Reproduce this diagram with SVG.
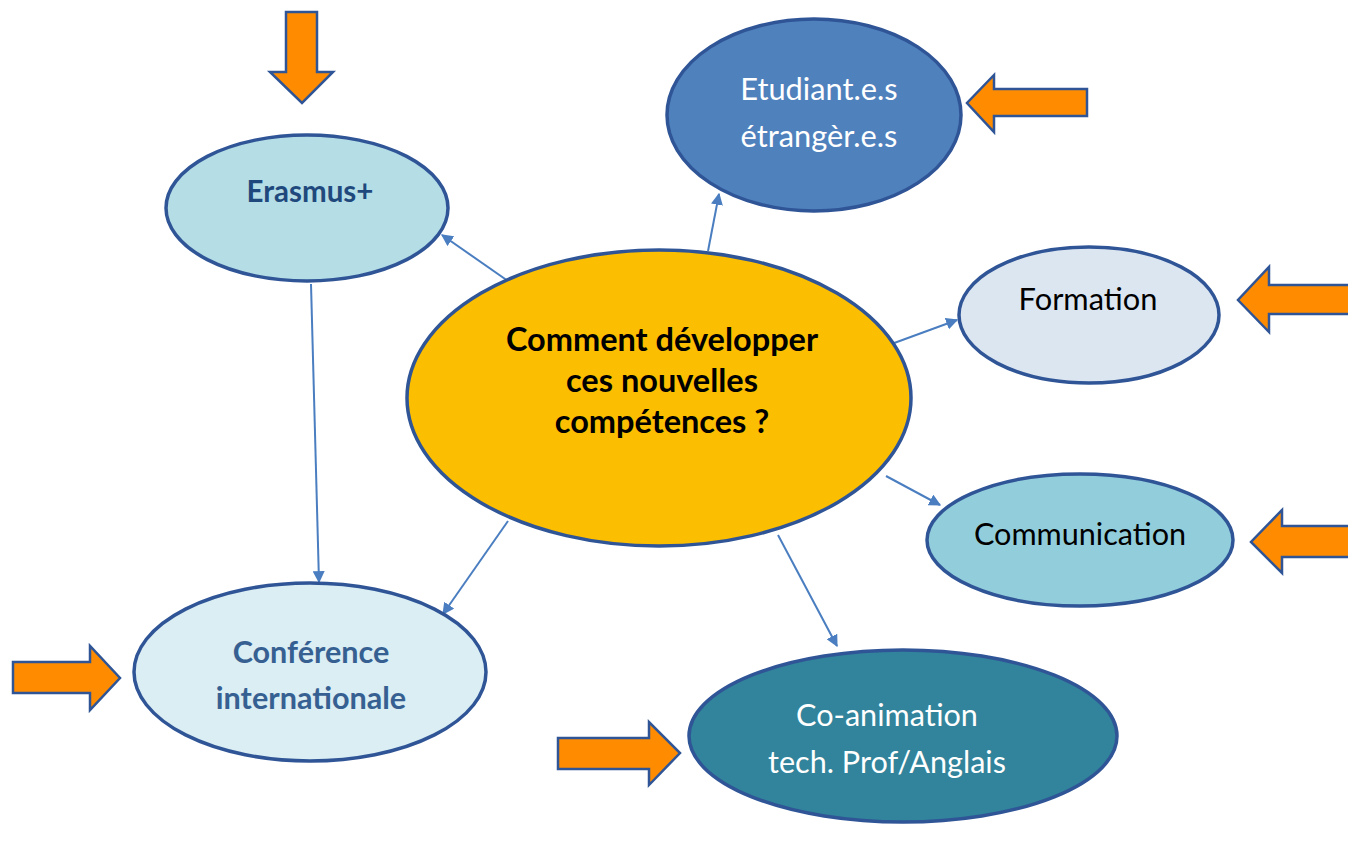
<svg xmlns="http://www.w3.org/2000/svg" width="1348" height="850" viewBox="0 0 1348 850">
<defs>
<style>
.node{stroke:#2F5597;stroke-width:3.5}
.blk{fill:#FF8C00;stroke:#2F5597;stroke-width:2.5;stroke-linejoin:miter}
.con{stroke:#4A7EC0;stroke-width:2;fill:none;marker-end:url(#ah)}
text{font-family:Lato,"Open Sans","Liberation Sans",sans-serif;text-anchor:middle}
</style>
<marker id="ah" viewBox="0 0 10 10" refX="9" refY="5" markerWidth="6" markerHeight="6" orient="auto" markerUnits="strokeWidth">
<path d="M0,0 L10,5 L0,10 z" fill="#4A7EC0"/>
</marker>
</defs>
<rect width="1348" height="850" fill="#FFFFFF"/>
<g id="connectors">
<line class="con" x1="508" y1="281" x2="442" y2="235"/>
<line class="con" x1="708" y1="251" x2="719" y2="194"/>
<line class="con" x1="886" y1="346" x2="957" y2="320"/>
<line class="con" x1="886" y1="476" x2="940" y2="505"/>
<line class="con" x1="508" y1="521" x2="443" y2="614"/>
<line class="con" x1="778" y1="535" x2="837" y2="646"/>
<line class="con" x1="311" y1="284" x2="319" y2="582"/>
</g>
<g id="center">
<ellipse class="node" cx="659" cy="398" rx="252" ry="148" fill="#FBBE00"/>
<text font-weight="bold" font-size="32.5" fill="#000000"><tspan x="662" y="351">Comment développer</tspan><tspan x="662" y="392">ces nouvelles</tspan><tspan x="662" y="433">compétences ?</tspan></text>
</g>
<g id="erasmus">
<ellipse class="node" cx="307" cy="208" rx="141" ry="73" fill="#B4DDE6"/>
<text x="310" y="202" font-weight="bold" font-size="29.5" fill="#1F497D">Erasmus+</text>
</g>
<g id="etudiants">
<ellipse class="node" cx="814" cy="115" rx="147" ry="96" fill="#4F81BD"/>
<text font-size="30.8" fill="#FFFFFF"><tspan x="819" y="100">Etudiant.e.s</tspan><tspan x="819" y="147">étrangèr.e.s</tspan></text>
</g>
<g id="formation">
<ellipse class="node" cx="1089" cy="315" rx="130" ry="68" fill="#DCE6F1"/>
<text x="1088" y="310" font-size="30.8" fill="#000000">Formation</text>
</g>
<g id="communication">
<ellipse class="node" cx="1080" cy="540" rx="153" ry="66" fill="#92CDDC"/>
<text x="1080" y="545" font-size="30.6" fill="#000000">Communication</text>
</g>
<g id="conference">
<ellipse class="node" cx="310" cy="672" rx="176" ry="89" fill="#DAEEF3"/>
<text font-weight="bold" font-size="30.6" fill="#376092"><tspan x="311" y="663">Conférence</tspan><tspan x="311" y="709">internationale</tspan></text>
</g>
<g id="coanimation">
<ellipse class="node" cx="903" cy="736" rx="214" ry="86" fill="#31849B"/>
<text font-size="30.6" fill="#FFFFFF"><tspan x="887" y="726">Co-animation</tspan><tspan x="887" y="773">tech. Prof/Anglais</tspan></text>
</g>
<g id="arrow-erasmus">
<polygon class="blk" points="286,12 317,12 317,72 333,72 302,103 270,72 286,72"/>
</g>
<g id="arrow-etudiants">
<polygon class="blk" points="1087,89 1087,116 994,116 994,132 967,103 994,75 994,89"/>
</g>
<g id="arrow-formation">
<polygon class="blk" points="1350,285 1350,314 1269,314 1269,332 1238,300 1269,267 1269,285"/>
</g>
<g id="arrow-communication">
<polygon class="blk" points="1350,526 1350,557 1282,557 1282,573 1251,542 1282,510 1282,526"/>
</g>
<g id="arrow-conference">
<polygon class="blk" points="13,662 90,662 90,646 120,678 90,710 90,693 13,693"/>
</g>
<g id="arrow-coanimation">
<polygon class="blk" points="558,738 649,738 649,722 680,753 649,785 649,769 558,769"/>
</g>
</svg>
